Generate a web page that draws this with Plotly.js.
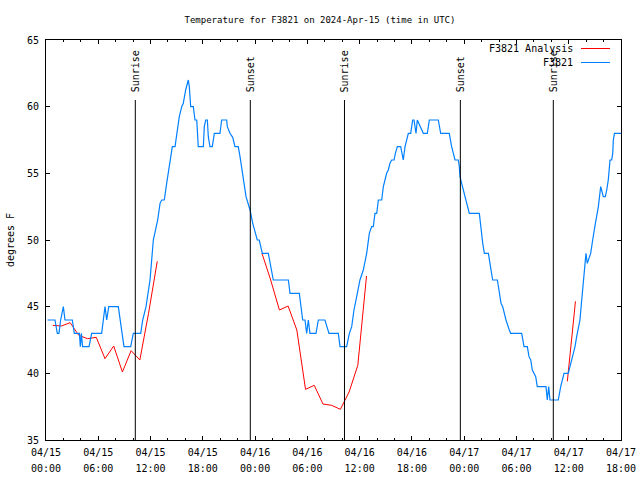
<!DOCTYPE html>
<html><head><meta charset="utf-8">
<script src="https://cdn.plot.ly/plotly-3.0.1.min.js"></script>
<style>body{margin:0;background:#fff}</style>
</head><body>
<div id="chart" style="width:640px;height:480px"></div>
<script>
// Hours since 2024-04-15 00:00 UTC
const obsHours = [0.17,1.03,1.30,1.49,1.68,1.99,2.18,3.02,3.25,3.83,3.94,4.06,4.2,4.94,5.24,6.39,6.58,6.77,6.97,7.2,8.30,8.49,8.72,8.95,9.72,10.02,10.87,11.10,11.48,11.71,11.94,12.13,12.32,12.82,13.09,13.28,13.58,13.85,14.23,14.5,14.81,15.0,15.3,15.58,15.76,16.03,16.33,16.45,16.61,16.91,17.1,17.3,17.41,17.48,18.06,18.17,18.33,18.52,18.63,18.82,19.09,19.32,19.97,20.16,20.74,20.81,21.12,21.43,21.69,22.07,22.27,22.46,22.73,22.96,23.22,23.42,23.73,23.99,24.25,24.48,24.64,24.83,25.52,25.71,25.9,26.09,27.82,28.01,29.08,29.23,29.46,29.73,29.92,30.11,30.3,30.99,31.26,32.02,32.22,32.48,33.55,33.75,34.51,34.82,35.09,35.35,35.66,36.04,36.42,36.81,37.11,37.38,37.57,37.76,37.96,38.15,38.53,38.72,38.91,39.1,39.29,39.48,39.68,39.95,40.1,40.33,40.71,41.01,41.21,41.4,41.59,41.86,42.09,42.24,42.47,42.62,42.93,43.31,43.77,44.0,45.03,45.3,46.29,46.56,46.95,47.33,47.44,47.52,47.71,47.9,48.09,48.29,48.59,49.74,49.9,50.01,50.13,50.32,50.78,50.96,51.16,51.27,51.81,51.92,52.11,52.23,52.42,52.61,52.8,53.18,53.34,54.6,54.79,54.87,55.25,55.44,55.64,55.82,56.01,56.21,56.39,57.39,57.54,57.7,57.85,58.8,59.08,59.31,59.46,59.95,60.15,60.34,60.53,60.72,60.91,61.1,61.29,61.49,61.67,61.87,61.98,62.13,62.52,62.75,62.9,63.02,63.4,63.59,63.67,63.97,64.2,64.36,64.54,64.74,64.93,65.05,65.12,65.25,66];
const obsTemps = [44,44,43,43,44,45,44,44,43,43,42,43,42,42,43,43,44,45,44,45,45,44,43,42,42,43,43,44,45,46,47,48.5,50,51.5,52.75,53,53,54.25,56,57,57,58,59.25,60,60.25,61.25,62,61.5,60,60,59,59,57.5,57,57,58.5,59,59,57.75,57,57,58,58,59,59,58.5,58,57.7,57,57,56.25,55.25,54.25,53.25,52.75,52.25,51.25,50.5,50,50,49.5,49,49,48.25,47.5,47,47,46,46,45,44,44,43,44,43,43,44,44,43.5,43,43,42,42,43,43.5,44.75,45.75,47,47.75,49,50.5,51,51,52,52,53,53,54,54.5,55,55.25,55.75,56,56,56.5,57,57,56,57,57.5,58,58,59,59,58,59,58.5,58,58,59,59,58,58,57,56,56,55.5,54.75,54.25,53.75,53.25,52.75,52,52,51,50.4,49.75,49,49,48.25,47.5,47,47,46.5,45.75,45.25,45,44.5,44,43.25,43,43,42.25,42,42,41.25,41,40.25,40,39.75,39,39,38,39,38,38,39,39.5,40,40,40.5,41,41.5,42,42.75,43.5,44,45.5,46.75,48,49,48.25,49,50,50.75,51.1,52.5,53.5,54,53.25,53.25,53.75,54.5,56,56,56.5,57.5,58,58];

const anaHours = [0.77,1.77,2.77,3.77,4.77,5.77,6.77,7.77,8.77,9.77,10.77,11.77,12.77,null,
                  24.79,25.79,26.79,27.79,28.79,29.79,30.79,31.79,32.79,33.79,34.79,35.79,36.79,null,
                  59.84,60.77];
const anaTemps = [43.6,43.55,43.8,42.85,42.6,42.7,41.1,42.05,40.1,41.7,41.0,44.5,48.4,null,
                  49.0,47.0,44.75,45.05,43.25,38.8,39.1,37.7,37.6,37.3,38.6,40.6,47.3,null,
                  39.4,45.4];

const sunHours = [10.25,23.45,34.26,47.56,58.23];
const sunLabels = ['Sunrise','Sunset','Sunrise','Sunset','Sunrise'];

const seriesNames = ['F3821 Analysis','F3821'];
const seriesColors = ['#ff0000','#0080ff'];

const T0 = Date.UTC(2024,3,15);
function d(h){ return h===null ? null : new Date(T0 + Math.round(h*3600000)).toISOString().replace('T',' ').slice(0,19); }

const FONT = {family:'DejaVu Sans Mono, monospace', size:10, color:'#000'};
const TITLE_FONT = {family:'DejaVu Sans Mono, monospace', size:9, color:'#000'};

const traces = [
  {x: anaHours.map(d), y: anaTemps, type:'scatter', mode:'lines', name:seriesNames[0],
   line:{color:seriesColors[0], width:1}, connectgaps:false, xaxis:'x', yaxis:'y'},
  {x: obsHours.map(d), y: obsTemps, type:'scatter', mode:'lines', name:seriesNames[1],
   line:{color:seriesColors[1], width:1.2}, xaxis:'x2', yaxis:'y'}
];

const xr = [d(0), d(66)];
const shapes = sunHours.map(h => ({type:'line', xref:'x', yref:'y', x0:d(h), x1:d(h), y0:35, y1:60.5,
  line:{color:'#000', width:1}, layer:'above'}));
const annotations = sunHours.map((h,i) => ({x:d(h), y:60.95, xref:'x', yref:'y', text:sunLabels[i],
  textangle:-90, showarrow:false, xanchor:'center', yanchor:'bottom', font:FONT}));

// gnuplot-style key (text left of sample)
const keyTextX = (574-46)/575, keyX0 = (581-46)/575, keyX1 = (610-46)/575;
const keyY = [(440-48.5)/400, (440-62.5)/400];
seriesNames.forEach((n,i) => {
  annotations.push({xref:'paper', yref:'paper', x:keyTextX, y:keyY[i], text:n, showarrow:false,
    xanchor:'right', yanchor:'middle', font:FONT, borderpad:0});
  shapes.push({type:'line', xref:'paper', yref:'paper', x0:keyX0, x1:keyX1, y0:keyY[i], y1:keyY[i],
    line:{color:seriesColors[i], width:1}});
});

const layout = {
  width:640, height:480, paper_bgcolor:'#fff', plot_bgcolor:'#fff',
  margin:{l:46, r:19, t:40, b:40},
  showlegend:false,
  font: FONT,
  title:{text:'Temperature for F3821 on 2024-Apr-15 (time in UTC)', font:TITLE_FONT,
    xref:'container', yref:'container', x:0.5, y:1-20/480, xanchor:'center', yanchor:'middle'},
  xaxis:{type:'date', range:xr, tickformat:'%m/%d', dtick:6*3600000, tick0:d(0),
    ticks:'inside', ticklen:4, tickcolor:'#000', tickwidth:1, showline:true, linecolor:'#000', linewidth:1,
    mirror:'ticks', showgrid:false, zeroline:false, tickfont:FONT, ticklabelstandoff:3,
    minor:{dtick:2*3600000, tick0:d(0), ticks:'inside', ticklen:2, tickcolor:'#000', showgrid:false}},
  xaxis2:{type:'date', range:xr, overlaying:'x', anchor:'y', side:'bottom', tickformat:'%H:%M',
    dtick:6*3600000, tick0:d(0), ticks:'', showline:false, showgrid:false, zeroline:false,
    tickfont:FONT, ticklabelstandoff:21},
  yaxis:{range:[35,65], dtick:5, ticks:'inside', ticklen:4, tickcolor:'#000', showline:true,
    linecolor:'#000', linewidth:1, mirror:'ticks', showgrid:false, zeroline:false, tickfont:FONT,
    ticklabelstandoff:4,
    title:{text:'degrees F', font:FONT, standoff:10}},
  shapes: shapes,
  annotations: annotations
};

Plotly.newPlot('chart', traces, layout, {staticPlot:true, displayModeBar:false});
</script>
</body></html>
